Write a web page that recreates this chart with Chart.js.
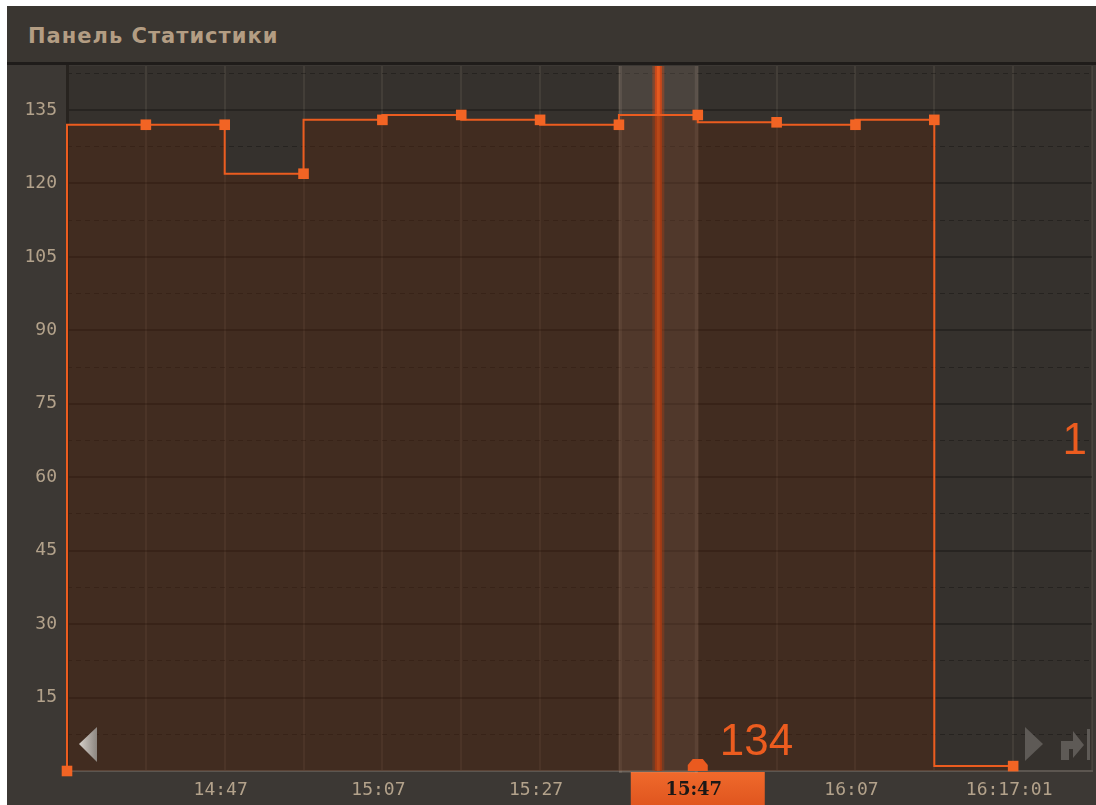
<!DOCTYPE html>
<html>
<head>
<meta charset="utf-8">
<script src="https://cdn.jsdelivr.net/npm/chart.js@4/dist/chart.umd.min.js"></script>
<style>
  body { margin: 0; background: #fff; width: 1096px; height: 805px; overflow: hidden; }
  #panel { position: absolute; left: 7px; top: 6px; width: 1089px; height: 799px; background: #3c3834; }
  #title { position: absolute; left: 0; top: 0; width: 1089px; height: 56px; background: #3a3631; border-bottom: 3px solid #1f1c1a; }
  #title span { position: absolute; left: 21px; top: 18px; color: #b39d83; font: bold 21px "DejaVu Sans"; letter-spacing: 1px; }
  #wrap { position: absolute; left: 0; top: 0; width: 1096px; height: 805px; }
</style>
</head>
<body>
<div id="panel"><div id="title"><span>Панель Статистики</span></div></div>
<div id="wrap"><canvas id="statChart" width="1096" height="805"></canvas></div>
<script>
// значения по 10-минутным интервалам, начиная с 14:27
const slots = [0, 1, 2, 3, 4, 5, 6, 7, 8, 9, 10, 11, 12];
const values = [0, 132, 132, 122, 133, 134, 133, 132, 134, 132.5, 132, 133, 1];
const timeLabels = ['', '', '14:47', '', '15:07', '', '15:27', '', '15:47', '', '16:07', '', '16:17:01', ''];
const yTicks = [15, 30, 45, 60, 75, 90, 105, 120, 135];
const yHalfTicks = [7.5, 22.5, 37.5, 52.5, 67.5, 82.5, 97.5, 112.5, 127.5, 142.5];
const cursorSlot = 8;

const ORANGE = '#ec5c1f';
const TICK_COLOR = '#b3a28b';

const panelDecor = {
  id: 'panelDecor',
  beforeDraw(chart) {
    const { ctx, chartArea: a, scales } = chart;
    ctx.save();
    ctx.fillStyle = '#35312d';
    ctx.fillRect(a.left, a.top, a.right - a.left, a.bottom - a.top);
    // плашка под текущим временем
    const cx = scales.x.getPixelForValue(cursorSlot);
    const g = ctx.createLinearGradient(0, a.bottom, 0, chart.height);
    g.addColorStop(0, '#f06a2c');
    g.addColorStop(1, '#e0561f');
    ctx.fillStyle = g;
    ctx.fillRect(cx - 67, a.bottom, 134, chart.height - a.bottom);
    ctx.restore();
  },
  beforeDatasetsDraw(chart) {
    const { ctx, chartArea: a, scales } = chart;
    const x0 = scales.x.getPixelForValue(cursorSlot - 1);
    const x1 = scales.x.getPixelForValue(cursorSlot);
    ctx.save();
    ctx.fillStyle = 'rgba(200,180,160,0.15)';
    ctx.fillRect(x0, a.top, x1 - x0, a.bottom - a.top + 2);
    ctx.fillStyle = 'rgba(210,190,170,0.12)';
    ctx.fillRect(x0, a.top, 3, a.bottom - a.top + 2);
    ctx.fillRect(x1 - 3, a.top, 3, a.bottom - a.top + 2);
    // линия курсора
    const xm = scales.x.getPixelForValue(cursorSlot - 0.5);
    ctx.fillStyle = 'rgba(220,80,25,0.35)';
    ctx.fillRect(xm - 6, a.top, 12, a.bottom - a.top);
    ctx.fillStyle = '#c9481a';
    ctx.fillRect(xm - 3.5, a.top, 7, a.bottom - a.top);
    ctx.fillStyle = '#e65a20';
    ctx.fillRect(xm - 1.5, a.top, 3, a.bottom - a.top);
    ctx.restore();
  },
  afterDatasetsDraw(chart) {
    const { ctx, chartArea: a, scales } = chart;
    const cx = scales.x.getPixelForValue(cursorSlot);
    ctx.save();
    // маркер курсора
    ctx.fillStyle = '#ea5a1f';
    ctx.beginPath();
    ctx.moveTo(cx - 10, a.bottom);
    ctx.lineTo(cx - 10, a.bottom - 6);
    ctx.lineTo(cx - 5, a.bottom - 12);
    ctx.lineTo(cx + 5, a.bottom - 12);
    ctx.lineTo(cx + 10, a.bottom - 6);
    ctx.lineTo(cx + 10, a.bottom);
    ctx.closePath();
    ctx.fill();

    // значения
    ctx.fillStyle = ORANGE;
    ctx.font = '44px "Liberation Sans"';
    ctx.textBaseline = 'alphabetic';
    ctx.textAlign = 'left';
    ctx.fillText(String(values[cursorSlot]), cx + 22, a.bottom - 16);
    ctx.textAlign = 'right';
    ctx.fillText(String(values[values.length - 1]), a.right - 5, a.top + 388);

    // стрелки навигации
    const lg = ctx.createLinearGradient(80, 0, 97, 0);
    lg.addColorStop(0, '#d2ccc6');
    lg.addColorStop(1, '#8c8680');
    ctx.fillStyle = lg;
    ctx.beginPath();
    ctx.moveTo(79, 744); ctx.lineTo(97, 727); ctx.lineTo(97, 762);
    ctx.closePath(); ctx.fill();

    ctx.fillStyle = '#5e5a56';
    ctx.beginPath();
    ctx.moveTo(1025, 727); ctx.lineTo(1043, 744); ctx.lineTo(1025, 761);
    ctx.closePath(); ctx.fill();

    ctx.beginPath();
    ctx.moveTo(1061, 760); ctx.lineTo(1061, 741); ctx.lineTo(1073, 741);
    ctx.lineTo(1073, 731); ctx.lineTo(1084, 745); ctx.lineTo(1073, 758);
    ctx.lineTo(1073, 749); ctx.lineTo(1069, 749); ctx.lineTo(1069, 760);
    ctx.closePath(); ctx.fill();
    ctx.fillRect(1087, 729, 3, 31);
    ctx.restore();
  }
};

new Chart(document.getElementById('statChart'), {
  type: 'line',
  data: {
    datasets: [{
      data: slots.map((s, i) => ({ x: s, y: values[i] })),
      stepped: 'after',
      borderColor: ORANGE,
      borderWidth: 2,
      fill: 'origin',
      backgroundColor: 'rgba(90,35,10,0.34)',
      pointStyle: 'rect',
      pointRadius: 7.5,
      pointBackgroundColor: '#f26424',
      pointBorderColor: '#f26424',
      pointBorderWidth: 0,
      clip: false
    }]
  },
  options: {
    responsive: false,
    animation: false,
    events: [],
    layout: { autoPadding: false, padding: { left: 7, top: 66, right: 4, bottom: 0 } },
    plugins: { legend: { display: false }, tooltip: { enabled: false } },
    scales: {
      x: {
        type: 'linear',
        min: 0,
        max: 13,
        afterBuildTicks: (s) => { s.ticks = timeLabels.map((_, i) => ({ value: i })); },
        afterFit: (s) => { s.height = 34; s.paddingLeft = 0; s.paddingRight = 0; },
        grid: {
          drawTicks: false,
          color: (c) => c.tick && c.tick.value === 0 ? 'rgba(0,0,0,0)' : 'rgba(255,235,215,0.07)',
          lineWidth: 2
        },
        border: { color: '#5c5650', width: 2 },
        ticks: {
          padding: 9,
          labelOffset: -4,
          autoSkip: false,
          maxRotation: 0,
          callback: (v) => timeLabels[v] || '',
          color: (c) => c.tick && c.tick.value === cursorSlot ? '#1b1816' : TICK_COLOR,
          font: (c) => c.tick && c.tick.value === cursorSlot
            ? { family: 'DejaVu Serif', size: 18, weight: 'bold' }
            : { family: 'DejaVu Sans Mono', size: 18 }
        }
      },
      y: {
        min: 0,
        max: 144,
        afterBuildTicks: (s) => { s.ticks = yTicks.map(v => ({ value: v })); },
        afterFit: (s) => { s.width = 60; },
        grid: { drawTicks: false, color: 'rgba(0,0,0,0.26)', lineWidth: 2 },
        border: { color: '#27231f', width: 3 },
        ticks: { padding: 10, color: TICK_COLOR, font: { family: 'DejaVu Sans Mono', size: 18 } }
      },
      yHalf: {
        position: 'left',
        min: 0,
        max: 144,
        afterBuildTicks: (s) => { s.ticks = yHalfTicks.map(v => ({ value: v })); },
        afterFit: (s) => { s.width = 0; },
        grid: { drawTicks: false, color: 'rgba(0,0,0,0.28)', lineWidth: 1 },
        border: { display: false, dash: [5, 4] },
        ticks: { display: false }
      }
    }
  },
  plugins: [panelDecor]
});
</script>
</body>
</html>
